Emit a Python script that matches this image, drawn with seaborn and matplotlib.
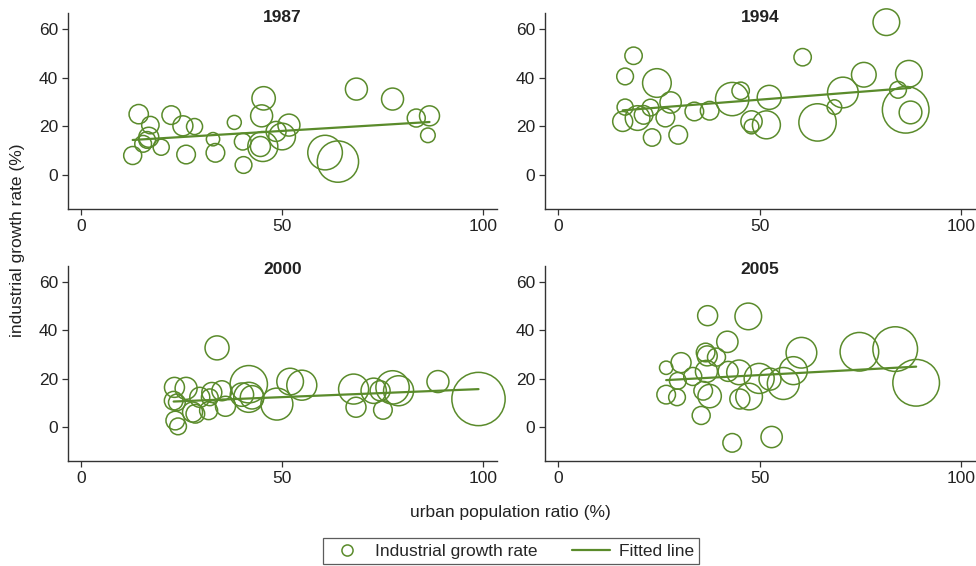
import numpy as np
import pandas as pd
import matplotlib
matplotlib.use("Agg")
import matplotlib.pyplot as plt
from matplotlib import font_manager
from matplotlib.lines import Line2D
import seaborn as sns

# ---- data (x = urban ratio, y = industrial growth, w = bubble weight)
years = ["1987", "1994", "2000", "2005"]

x_1987 = [12.8, 14.3, 15.4, 17.2, 16.8, 16.4, 19.9, 22.4, 25.3, 28.2, 26.1, 32.8, 33.4, 38.1, 40.2,
          40.4, 45.4, 44.9, 45.2, 44.6, 48.5, 50.0, 51.7, 60.7, 63.9, 68.5, 77.5, 83.4, 86.7, 86.3]
y_1987 = [8.0, 25.0, 12.8, 20.5, 15.5, 14.4, 11.4, 24.6, 20.2, 19.9, 8.4, 14.7, 9.1, 21.6, 13.7,
          4.1, 31.5, 24.3, 11.7, 11.7, 17.9, 15.8, 20.5, 9.2, 5.5, 35.3, 31.2, 23.4, 24.3, 16.3]
w_1987 = [7.3, 8.4, 6.3, 6.8, 9.0, 6.3, 5.8, 7.8, 9.0, 5.8, 7.8, 4.0, 7.8, 4.4, 6.3,
          6.3, 12.3, 10.9, 20.3, 9.0, 9.0, 16.0, 10.9, 27.0, 38.4, 10.9, 10.9, 7.3, 9.0, 4.8]

x_1994 = [16.0, 16.6, 16.6, 18.7, 19.7, 21.2, 22.9, 23.3, 24.5, 26.6, 27.9, 29.8, 33.8, 37.6, 43.2,
          45.3, 48.0, 48.0, 51.7, 52.4, 60.7, 64.4, 68.6, 70.7, 75.9, 81.5, 84.4, 87.1, 86.3, 87.5]
y_1994 = [22.0, 27.9, 40.5, 49.0, 23.4, 24.7, 27.7, 15.4, 37.8, 23.6, 29.8, 16.5, 26.1, 26.4, 31.2,
          34.6, 22.0, 19.9, 20.6, 31.9, 48.4, 21.6, 27.9, 33.9, 41.2, 62.8, 35.0, 41.6, 26.8, 25.7]
w_1994 = [9.0, 5.8, 6.3, 6.8, 13.7, 7.8, 6.3, 6.8, 18.5, 7.8, 10.2, 7.8, 7.8, 7.8, 25.0,
          6.8, 10.2, 4.8, 17.6, 13.0, 6.8, 31.4, 4.8, 21.2, 13.7, 16.0, 6.3, 16.0, 49.0, 11.6]

x_2000 = [23.2, 23.0, 23.8, 23.4, 24.1, 26.1, 27.7, 28.4, 29.5, 31.7, 32.5, 32.0, 35.0, 33.8, 35.9, 40.0,
          41.7, 41.7, 42.5, 48.7, 52.0, 54.9, 67.8, 68.4, 72.8, 74.4, 75.1, 77.5, 79.0, 88.8, 98.9]
y_2000 = [16.4, 10.9, 10.2, 2.7, 0.3, 16.0, 6.2, 5.5, 12.3, 6.8, 14.3, 12.3, 15.0, 32.7, 8.6, 13.4,
          17.7, 12.3, 12.3, 9.5, 18.8, 17.3, 15.7, 8.2, 15.0, 15.0, 7.1, 16.4, 15.0, 18.8, 11.6]
w_2000 = [9.0, 7.8, 6.3, 7.8, 6.3, 10.9, 9.0, 7.8, 9.0, 7.3, 9.0, 6.3, 9.0, 13.0, 9.0, 12.3,
          31.4, 20.3, 12.3, 23.0, 16.0, 20.3, 20.3, 9.0, 14.4, 9.0, 7.8, 25.0, 20.3, 10.9, 64.0]

x_2005 = [26.8, 26.8, 29.5, 29.7, 30.5, 33.4, 35.5, 36.0, 37.1, 36.6, 37.0, 36.8, 37.6, 39.3, 42.0,
          42.2, 43.2, 44.9, 45.1, 47.4, 47.2, 49.9, 52.6, 53.0, 55.9, 58.4, 60.4, 74.8, 83.7, 88.9]
y_2005 = [24.5, 13.4, 12.3, 19.1, 26.6, 20.9, 4.8, 15.0, 46.0, 30.8, 29.4, 23.0, 12.8, 28.9, 35.2,
          23.0, -6.5, 22.6, 11.6, 12.6, 45.7, 20.1, 19.8, -4.1, 18.0, 23.3, 30.7, 31.1, 32.2, 18.3]
w_2005 = [4.0, 7.8, 6.3, 6.3, 9.0, 7.3, 7.3, 7.8, 9.0, 7.8, 9.0, 10.9, 12.3, 7.3, 10.2,
          9.0, 7.8, 13.7, 9.0, 16.0, 16.0, 20.3, 10.9, 10.2, 23.0, 17.6, 21.2, 33.6, 44.9, 49.0]

# fitted line coefficients (intercept, slope)
fit_intercept = [13.1, 24.5, 9.0, 17.0]
fit_slope = [0.100, 0.129, 0.0675, 0.0895]

xs = [x_1987, x_1994, x_2000, x_2005]
ys = [y_1987, y_1994, y_2000, y_2005]
ws = [w_1987, w_1994, w_2000, w_2005]

# ---- style
sns.set_style("white")
names = {f.name for f in font_manager.fontManager.ttflist}
main_font = "Liberation Sans Narrow" if "Liberation Sans Narrow" in names else "Liberation Sans"
plt.rcParams["font.family"] = [main_font, "DejaVu Sans"]

green = "#5a8b2b"
dark = "#222222"
k = 23.0  # bubble area per weight unit
wmax = max(max(w) for w in ws)

fig = plt.figure(figsize=(9.76, 5.66), dpi=100)
boxes = [
    [0.0697, 0.6307, 0.4395, 0.346],
    [0.5584, 0.6307, 0.4405, 0.346],
    [0.0697, 0.1855, 0.4395, 0.3445],
    [0.5584, 0.1855, 0.4405, 0.3445],
]

for i, yr in enumerate(years):
    ax = fig.add_axes(boxes[i])
    df = pd.DataFrame({"x": xs[i], "y": ys[i], "w": ws[i]})
    sns.scatterplot(data=df, x="x", y="y", size="w", sizes=(0, k * wmax),
                    size_norm=(0, wmax), facecolor="none", edgecolor=green,
                    linewidth=1.1, legend=False, ax=ax, zorder=2, clip_on=False)
    xl = np.array([min(xs[i]), max(xs[i])])
    line_df = pd.DataFrame({"x": xl, "y": fit_intercept[i] + fit_slope[i] * xl})
    sns.lineplot(data=line_df, x="x", y="y", color=green, linewidth=1.6, ax=ax, zorder=3)

    ax.set_xlim(-3.3, 103.5)
    ax.set_ylim(-14, 66.5)
    ax.set_xticks([0, 50, 100])
    ax.set_yticks([0, 20, 40, 60])
    ax.set_xlabel("")
    ax.set_ylabel("")
    for s in ["top", "right"]:
        ax.spines[s].set_visible(False)
    for s in ["left", "bottom"]:
        ax.spines[s].set_color("#333333")
        ax.spines[s].set_linewidth(1.0)
    ax.tick_params(axis="both", direction="out", length=4, width=0.9, color="#333333",
                   labelsize=12.5, labelcolor=dark, pad=3,
                   left=True, bottom=True)
    ax.text(0.5, 0.98, yr, transform=ax.transAxes, ha="center", va="center",
            fontsize=12.5, fontweight="bold", color=dark)

fig.text(18 / 976, 1 - 240 / 566, "industrial growth rate (%)", rotation=90,
         ha="center", va="center", fontsize=12.5, color=dark)
fig.text(510 / 976, 1 - 512 / 566, "urban population ratio (%)",
         ha="center", va="center", fontsize=12.5, color=dark)

handles = [
    Line2D([], [], linestyle="none", marker="o", markerfacecolor="none",
           markeredgecolor=green, markersize=8, markeredgewidth=1.1),
    Line2D([], [], color=green, linewidth=1.6),
]
leg = fig.legend(handles, ["Industrial growth rate", "Fitted line"], ncol=2,
                 loc="center", bbox_to_anchor=(511 / 976, 1 - 551 / 566),
                 frameon=True, fancybox=False, fontsize=12.5, handlelength=2.2,
                 columnspacing=2.0, borderpad=0.3, handletextpad=0.5)
leg.get_frame().set_edgecolor("#333333")
leg.get_frame().set_linewidth(0.9)

fig.savefig("out.png", dpi=100)
